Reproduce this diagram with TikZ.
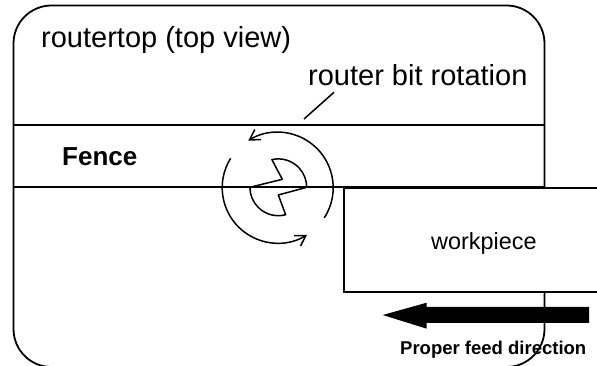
\documentclass[tikz,border=0pt]{standalone}
\usepackage{fontspec}
\setmainfont{Liberation Sans}
\usetikzlibrary{arrows.meta}
\tikzset{
  outline/.style={draw=black,line width=1.8pt},
  thinline/.style={draw=black,line width=1.5pt},
  openhead/.style={-{Straight Barb[length=10pt,width=12pt,line width=1.5pt]}},
  lbl/.style={inner sep=0pt,anchor=base west,text=black},
}
\begin{document}
\begin{tikzpicture}[x=1pt,y=1pt]
\useasboundingbox (0,0) rectangle (597,366);
\clip (0,0) rectangle (597,366);
% router top
\draw[outline,rounded corners=38pt] (13.5,-1) rectangle (544.5,360.5);
% fence
\draw[outline] (13.5,241) rectangle (544.5,179);
% workpiece
\node[outline,fill=white,minimum width=254pt,minimum height=103.5pt,inner sep=0pt,anchor=north west] (wp) at (343,178.5) {};
% router bit
\coordinate (b) at (278.3,178.7);
\draw[thinline,line join=round] (250,178.7) -- (282.3,186.7) -- ([shift={(103:28.4pt)}]b)
  arc[start angle=103,end angle=0,radius=28.4pt] -- (278.3,171) -- ([shift={(-75:28.4pt)}]b)
  arc[start angle=-75,end angle=-180,radius=28.4pt] -- cycle;
% rotation arcs
\coordinate (c) at (277.7,178.3);
\draw[thinline,openhead] ([shift={(148:55.5pt)}]c) arc[start angle=148,end angle=302,radius=55.5pt];
\draw[thinline,openhead] ([shift={(-33:55.5pt)}]c) arc[start angle=-33,end angle=122,radius=55.5pt];
% labels
\node[lbl,font=\fontsize{29}{29}\selectfont] (title) at (41,318) {routertop (top view)};
\node[lbl,font=\fontsize{29}{29}\selectfont] (rot) at (308,280) {router bit rotation};
\node[lbl,font=\fontsize{26}{26}\selectfont\bfseries] (fence) at (62,200) {Fence};
\node[lbl,font=\fontsize{23.4}{23.4}\selectfont] (wptext) at (431,116) {workpiece};
\node[lbl,font=\fontsize{18.5}{18.5}\selectfont\bfseries] (feed) at (400,11.7) {Proper feed direction};
\coordinate (leaderA) at (304,247);
\coordinate (leaderB) at (334,273.7);
\draw[thinline] (leaderA) -- (leaderB);
% feed arrow
\fill[black] (589,59) -- (426.7,59) -- (426.7,63.3) -- (382.7,51) -- (426.7,37.3) -- (426.7,43) -- (589,43) -- cycle;
\end{tikzpicture}
\end{document}
